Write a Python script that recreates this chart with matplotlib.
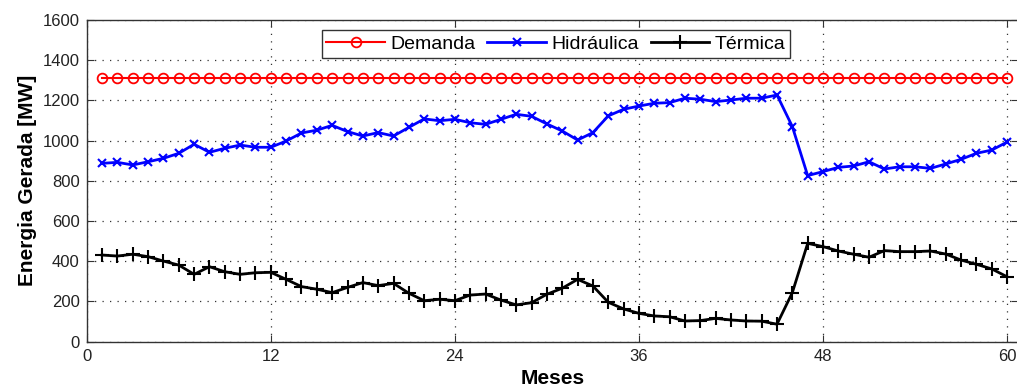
import numpy as np
import matplotlib.pyplot as plt

plt.rcParams['font.family'] = ['Liberation Sans', 'DejaVu Sans']

# Meses 1..60
meses = np.arange(1, 61)

demanda = [1310] * 60

hidraulica = [
    887, 892, 879, 895, 912, 937, 982, 942, 962, 978,
    967, 967, 998, 1038, 1052, 1076, 1045, 1023, 1040, 1023,
    1066, 1108, 1099, 1106, 1089, 1081, 1106, 1131, 1121, 1083,
    1048, 1003, 1040, 1123, 1156, 1172, 1186, 1189, 1211, 1206,
    1194, 1202, 1211, 1211, 1227, 1070, 826, 846, 867, 874,
    895, 859, 870, 870, 862, 884, 907, 937, 953, 993,
]

termica = [
    431, 426, 435, 423, 401, 381, 335, 373, 348, 335,
    343, 345, 310, 274, 261, 244, 270, 294, 279, 290,
    241, 204, 211, 204, 232, 237, 207, 183, 194, 236,
    266, 310, 277, 196, 163, 141, 128, 124, 103, 105,
    116, 108, 103, 102, 87, 244, 489, 473, 451, 435,
    420, 453, 448, 448, 451, 436, 406, 385, 362, 323,
]

fig = plt.figure(figsize=(10.17, 3.89), dpi=100)
ax = fig.add_axes([0.0853, 0.1216, 0.9155, 0.827])

ax.plot(meses, demanda, '-o', color='red', lw=1.5, ms=7,
        mfc='none', mew=1.3, label='Demanda')
ax.plot(meses, hidraulica, '-x', color='blue', lw=2, ms=6,
        mew=1.5, label='Hidráulica')
ax.plot(meses, termica, '-+', color='black', lw=2, ms=10,
        mew=1.5, label='Térmica')

ax.set_xlim(0, 60.7)
ax.set_ylim(0, 1600)
ax.set_xticks(np.arange(0, 61, 12))
ax.set_yticks(np.arange(0, 1601, 200))
ax.tick_params(direction='in', top=True, right=True, length=5,
               labelsize=12, colors='#333333', labelcolor='#222222', pad=5)
for s in ax.spines.values():
    s.set_color('#333333')
    s.set_linewidth(1.0)

ax.grid(True, linestyle=(0, (1, 5)), color='#333333', linewidth=0.9)

ax.set_xlabel('Meses', fontsize=15, fontweight='bold', labelpad=4)
ax.set_ylabel('Energia Gerada [MW]', fontsize=15, fontweight='bold', labelpad=4)

leg = ax.legend(loc='upper center', bbox_to_anchor=(0.504, 0.968), ncol=3,
                fontsize=14, frameon=True, fancybox=False, borderaxespad=0,
                handlelength=3, handletextpad=0.3, columnspacing=0.6,
                borderpad=0.25)
leg.get_frame().set_edgecolor('#333333')
leg.get_frame().set_linewidth(1.0)
leg.get_frame().set_alpha(1)

fig.savefig('out.png', dpi=100)
